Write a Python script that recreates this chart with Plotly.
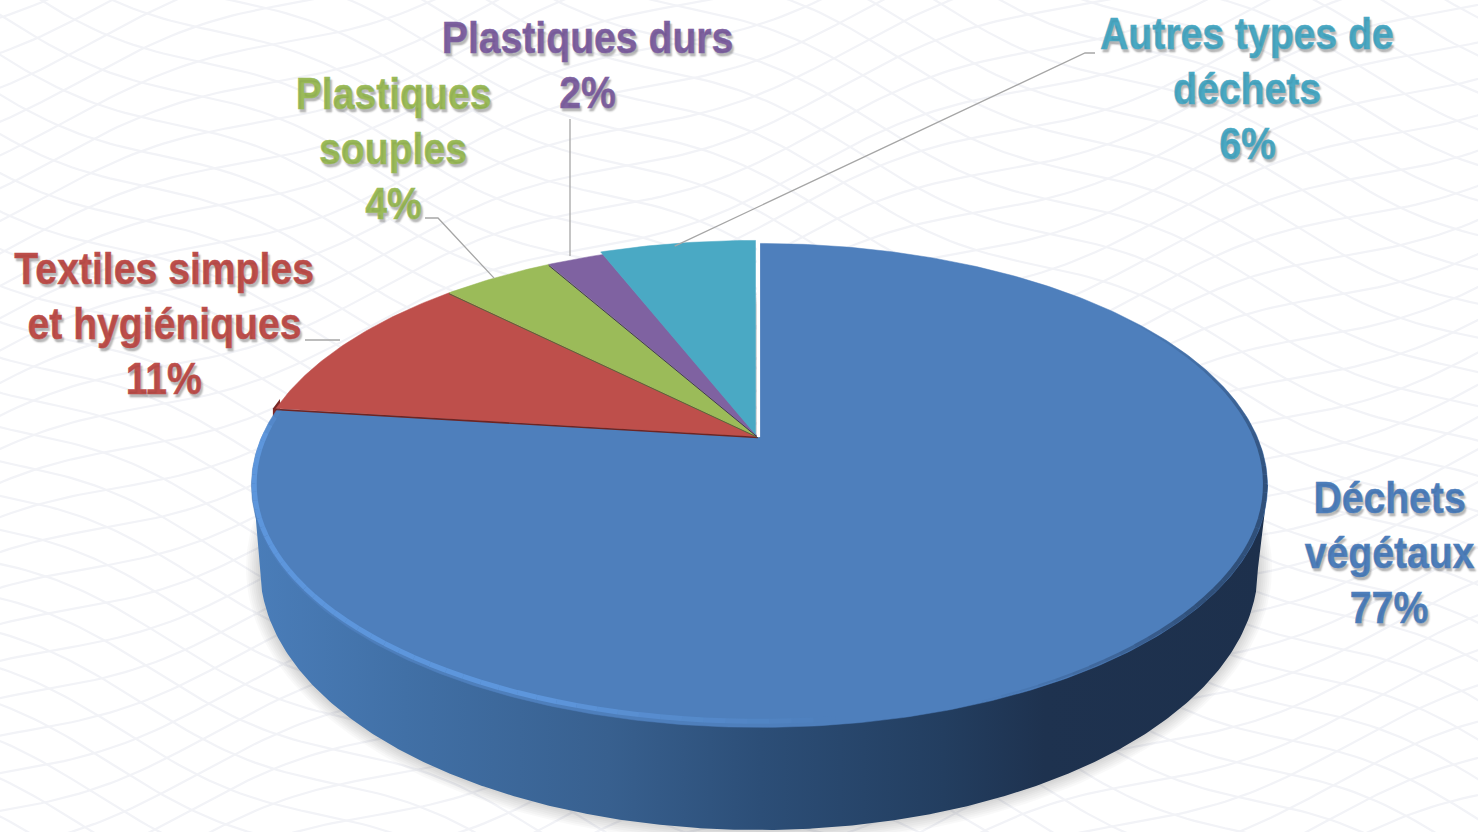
import numpy as np
import plotly.graph_objects as go

# ---- data ----
categories = ["Déchets<br>végétaux", "Textiles simples<br>et hygiéniques",
              "Plastiques<br>souples", "Plastiques durs", "Autres types de<br>déchets"]
values = [77.0, 10.5, 4.3, 2.2, 6.0]
shown_percent = ["77%", "11%", "4%", "2%", "6%"]
slice_colors = ["#4E7FBC", "#BE4F4B", "#9BBB59", "#7F62A1", "#4AA9C4"]
edge_colors = ["rgba(0,0,0,0)", "#6E2422", "#55693a", "#3f3355", "rgba(0,0,0,0)"]
label_centers_x = [1389, 164, 393, 587, 1247]
label_first_line_y = [497, 268, 93, 37, 33]
LINE_PITCH = 55
FONT = "Liberation Sans, Arial, sans-serif"
FONT_SIZE = 45
TEXT_SQUEEZE = 0.87

# ---- projection of the tilted disc on the page (pixels) ----
AX, AY, A, B, K = 758.0, 437.0, 498.0, 232.5, 0.198
TOP_CX, TOP_CY, TOP_RX, TOP_RY = 760.5, 485.0, 507.5, 241.5
BOT_CX, BOT_CY, BOT_RX, BOT_RY = 759.0, 568.0, 499.0, 262.0


def rim(pct):
    t = np.asarray(pct) / 100 * 2 * np.pi
    d = 1 + K * np.cos(t)
    return AX + A * np.sin(t) / d, AY - B * np.cos(t) / d


fig = go.Figure()

# ---- decorative background mesh ----
xs = np.linspace(-20, 1500, 200)
for slope, amp, per, phase, step in [(0.42, 13, 62, 0.0, 37), (-0.36, 13, 70, 1.3, 35)]:
    mx, my = [], []
    for y0 in np.arange(-800, 1500, step):
        mx += list(xs) + [None]
        my += list(y0 + slope * xs + amp * np.sin(xs / per + phase + y0 / 160)) + [None]
    fig.add_trace(go.Scatter(x=mx, y=my, mode="lines", hoverinfo="skip",
                             line=dict(color="#F2F3F7", width=2.2)))

# ---- soft shadow around the base ----
phi = np.linspace(0, 2 * np.pi, 240)
for grow in range(14, 0, -2):
    fig.add_trace(go.Scatter(
        x=BOT_CX + (BOT_RX + grow) * np.cos(phi), y=BOT_CY + (BOT_RY + grow) * np.sin(phi),
        mode="lines", fill="toself", fillcolor="rgba(0,0,0,0.022)", line=dict(width=0), hoverinfo="skip"))

# ---- side wall ----
wall_x = np.arange(BOT_CX - BOT_RX, BOT_CX + BOT_RX + 0.5, 2.0)
wall_y = BOT_CY + BOT_RY * np.sqrt(np.clip(1 - ((wall_x - BOT_CX) / BOT_RX) ** 2, 0, 1))
px = [TOP_CX - TOP_RX] + list(wall_x) + [TOP_CX + TOP_RX]
py = [TOP_CY] + list(wall_y) + [TOP_CY]
fig.add_trace(go.Scatter(
    x=px, y=py, mode="lines", fill="toself", hoverinfo="skip", line=dict(width=0),
    fillgradient=dict(type="horizontal", colorscale=[
        [0.00, "#4A7DB9"], [0.15, "#4170A6"], [0.35, "#38608F"], [0.50, "#2C4E77"],
        [0.68, "#233E60"], [0.78, "#1E324F"], [1.00, "#1D304C"]])))

# small dark side of the red slice at its rim
cum = np.cumsum([0] + values)
p = np.linspace(cum[1], cum[1] + 0.7, 6)
rx_, ry_ = rim(p)
fig.add_trace(go.Scatter(x=list(rx_ - 3) + list(rx_[::-1] - 3), y=list(ry_) + list(ry_[::-1] + 16),
                         mode="lines", fill="toself", fillcolor="#7A2826", line=dict(width=0), hoverinfo="skip"))

# ---- top face slices ----
for i, (name, val, col, edge) in enumerate(zip(categories, values, slice_colors, edge_colors)):
    p = np.linspace(cum[i], cum[i + 1], max(int(val * 6), 12))
    x_, y_ = rim(p)
    dx, dy = (-2.5, -2.5) if i == 4 else (1.5, 0.5) if i == 0 else (0, 0)
    fig.add_trace(go.Scatter(
        x=np.r_[AX, x_, AX] + dx, y=np.r_[AY, y_, AY] + dy, mode="lines", fill="toself", fillcolor=col,
        line=dict(color=col, width=0.5), name=name.replace("<br>", " "),
        text=shown_percent[i], hoverinfo="name+text"))
    if i in (1, 2, 3):
        xe, ye = rim([cum[i]])
        fig.add_trace(go.Scatter(x=[AX, xe[0]], y=[AY + 0.5, ye[0] + 1], mode="lines",
                                 line=dict(color=edge, width=1.6 if i == 1 else 1), hoverinfo="skip"))

# white gap between the last and the first slice
xe, ye = rim([0.0])
fig.add_trace(go.Scatter(x=[AX + 0.5, xe[0] + 0.5], y=[AY, ye[0] - 5], mode="lines",
                         line=dict(color="white", width=3.2), hoverinfo="skip"))

# ---- bevel along the blue rim ----
seg = np.linspace(cum[0] + 15, cum[1], 110)
for a, b in zip(seg[:-1], seg[1:]):
    pp = np.linspace(a, b, 3)
    x_, y_ = rim(pp)
    mid = (a + b) / 2
    if mid < 44:
        w = np.clip((mid - 15) / 13, 0, 1) * np.clip((44 - mid) / 8, 0, 1)
        color = f"rgba(28,48,78,{0.6 * w:.3f})"
        width, shift = 1.5 + 3 * w, 0.5
    elif mid < 48:
        continue
    else:
        w = np.clip((mid - 48) / 8, 0, 1) * np.clip((cum[1] - mid) / 2.0, 0, 1)
        color = f"rgba(98,156,228,{0.8 * w:.3f})"
        width, shift = 5, 2.5
    # pull the stroke slightly toward the centre of the disc
    fx = x_ + (AX - x_) * shift / 300
    fy = y_ + (AY - y_) * shift / 130
    fig.add_trace(go.Scatter(x=fx, y=fy, mode="lines", hoverinfo="skip",
                             line=dict(color=color, width=width)))

# ---- leader lines ----
leaders = [((1095, 53), (1085, 53), rim([cum[4] + values[4] / 2 - 0.2])),
           ((570, 119), (570, 119), ([570], [256])),
           ((425, 218), (438, 218), rim([cum[2] + values[2] / 2 - 0.15])),
           ((305, 340), (340, 340), ([340], [340]))]
for a, b, end in leaders:
    fig.add_trace(go.Scatter(x=[a[0], b[0], end[0][0]], y=[a[1], b[1], end[1][0]], mode="lines",
                             line=dict(color="#A6A6A6", width=1.3), hoverinfo="skip"))

# ---- labels ----
annotations = []
for i, name in enumerate(categories):
    for j, line in enumerate((name + "<br>" + shown_percent[i]).split("<br>")):
        annotations.append(dict(
            x=label_centers_x[i], y=label_first_line_y[i] + j * LINE_PITCH, xref="x", yref="y",
            text=line, showarrow=False, xanchor="center", yanchor="middle",
            font=dict(family=FONT, size=FONT_SIZE, weight=700, color=slice_colors[i],
                      shadow="2px 3px 2px rgba(0,0,0,0.28)")))

fig.update_layout(
    width=1478, height=832, margin=dict(l=0, r=0, t=0, b=0), showlegend=False,
    paper_bgcolor="white", plot_bgcolor="white", annotations=annotations,
    xaxis=dict(range=[0, 1478], visible=False, fixedrange=True),
    yaxis=dict(range=[832, 0], visible=False, fixedrange=True))

squeeze_js = f"""
document.body.style.margin='0';document.body.style.overflow='hidden';
document.querySelectorAll('.annotation-text').forEach(function(t){{
  var w=t.getComputedTextLength();
  t.setAttribute('lengthAdjust','spacingAndGlyphs');
  t.setAttribute('textLength',(w*{TEXT_SQUEEZE}).toFixed(1));
  t.style.stroke=t.style.fill;
  t.style.strokeWidth='0.5px';
}});
"""
fig.write_html("out.html", config=dict(displayModeBar=False), post_script=squeeze_js)
